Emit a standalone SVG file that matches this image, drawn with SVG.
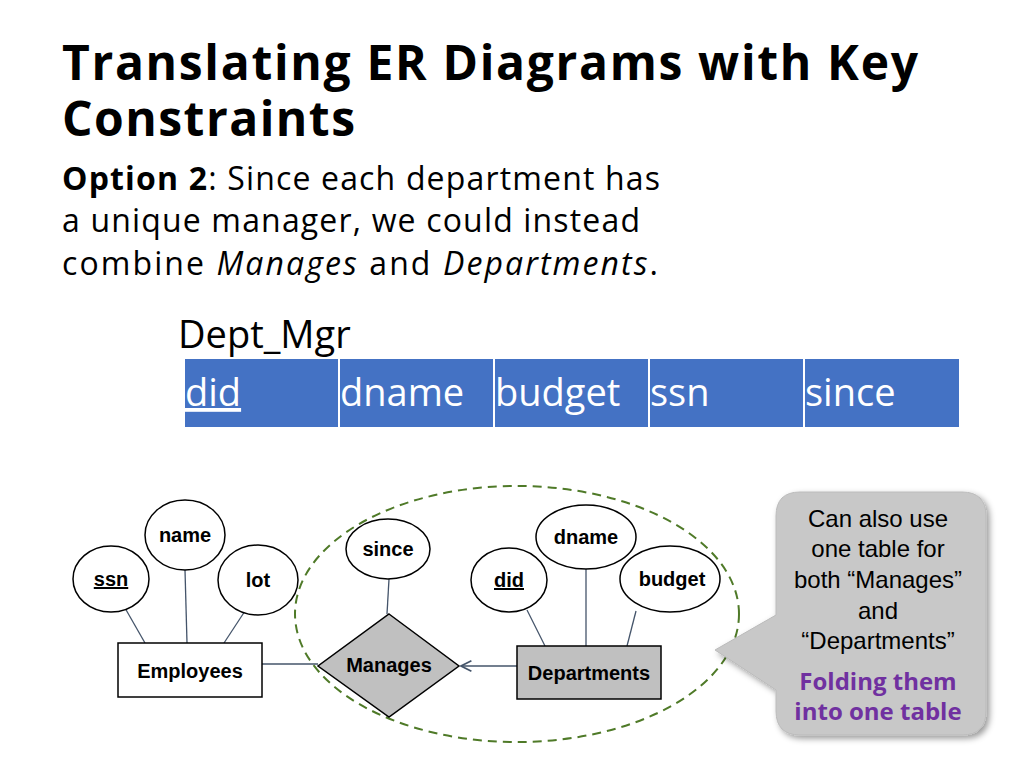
<svg xmlns="http://www.w3.org/2000/svg" width="1024" height="768" viewBox="0 0 1024 768">
<defs>
<style>
.t{font-family:"Open Sans","DejaVu Sans",sans-serif;fill:#000}
.a{font-family:"Liberation Sans",Arial,sans-serif;font-weight:bold;font-size:20px;text-anchor:middle}
.e{fill:#fff;stroke:#000;stroke-width:1.5}
.c{fill:#4472c4}
.ct{font-family:"Open Sans","DejaVu Sans",sans-serif;font-size:38px;fill:#fff}
.ln{stroke:#44546a;stroke-width:1.3;fill:none}
</style>
<marker id="ar" markerWidth="10" markerHeight="10" refX="9" refY="5" orient="auto"><path d="M1,1 L9,5 L1,9" fill="none" stroke="#44546a" stroke-width="1.3"/></marker>
<filter id="sh"><feDropShadow dx="3" dy="3" stdDeviation="3" flood-opacity="0.4"/></filter>
</defs>
<rect width="1024" height="768" fill="#fff"/>
<text class="t" x="62" y="80" font-size="48" font-weight="bold" textLength="856">Translating ER Diagrams with Key</text>
<text class="t" x="62" y="136" font-size="48" font-weight="bold" textLength="293">Constraints</text>
<text class="t" font-size="32" x="62" y="190" textLength="598"><tspan font-weight="bold">Option 2</tspan>: Since each department has</text>
<text class="t" font-size="32" x="62" y="232" textLength="578">a unique manager, we could instead</text>
<text class="t" font-size="32" x="62" y="275" textLength="596">combine <tspan font-style="italic">Manages</tspan> and <tspan font-style="italic">Departments</tspan>.</text>
<text class="t" font-size="38" x="178" y="348">Dept_Mgr</text>
<g id="table">
<rect class="c" x="185" y="359" width="153" height="68"/>
<rect class="c" x="340" y="359" width="153" height="68"/>
<rect class="c" x="495" y="359" width="153" height="68"/>
<rect class="c" x="650" y="359" width="153" height="68"/>
<rect class="c" x="805" y="359" width="154" height="68"/>
<text class="ct" x="185" y="406" text-decoration="underline">did</text>
<text class="ct" x="340" y="406">dname</text>
<text class="ct" x="495" y="406">budget</text>
<text class="ct" x="650" y="406">ssn</text>
<text class="ct" x="805" y="406">since</text>
</g>
<ellipse cx="517" cy="614" rx="222" ry="128" fill="none" stroke="#4f7a28" stroke-width="2" stroke-dasharray="9,6"/>
<g id="connectors">
<line class="ln" x1="125" y1="608" x2="145" y2="643"/>
<line class="ln" x1="185" y1="570" x2="187" y2="643"/>
<line class="ln" x1="245" y1="611" x2="224" y2="643"/>
<line class="ln" x1="389" y1="579" x2="387" y2="614"/>
<line class="ln" x1="527" y1="610" x2="545" y2="646"/>
<line class="ln" x1="586" y1="569" x2="586" y2="646"/>
<line class="ln" x1="636" y1="611" x2="627" y2="646"/>
<line class="ln" x1="262" y1="664" x2="318" y2="664" stroke-width="2"/>
<line class="ln" x1="517" y1="666" x2="461" y2="666" marker-end="url(#ar)"/>
</g>
<g id="ssn"><ellipse class="e" cx="111" cy="579" rx="38" ry="33"/><text class="a" x="111" y="586" text-decoration="underline">ssn</text></g>
<g id="name"><ellipse class="e" cx="185" cy="535" rx="40" ry="35"/><text class="a" x="185" y="542">name</text></g>
<g id="lot"><ellipse class="e" cx="258" cy="580" rx="40" ry="35"/><text class="a" x="258" y="587">lot</text></g>
<g id="since"><ellipse class="e" cx="388" cy="549" rx="42" ry="30"/><text class="a" x="388" y="556">since</text></g>
<g id="did"><ellipse class="e" cx="509" cy="580" rx="38" ry="32"/><text class="a" x="509" y="587" text-decoration="underline">did</text></g>
<g id="dname"><ellipse class="e" cx="586" cy="537" rx="50" ry="32"/><text class="a" x="586" y="544">dname</text></g>
<g id="budget"><ellipse class="e" cx="670" cy="579" rx="50" ry="33"/><text class="a" x="672" y="586">budget</text></g>
<g id="employees"><rect class="e" x="118" y="643" width="144" height="54"/><text class="a" x="190" y="678">Employees</text></g>
<g id="manages"><polygon points="389,614 459,666 389,717 318,666" fill="#c0c0c0" stroke="#000" stroke-width="1.5"/><text class="a" x="389" y="672">Manages</text></g>
<g id="departments"><rect x="517" y="646" width="144" height="53" fill="#c0c0c0" stroke="#000" stroke-width="1.5"/><text class="a" x="589" y="680">Departments</text></g>
<g id="callout">
<path d="M800,492 H962 Q986,492 986,516 V711 Q986,735 962,735 H800 Q776,735 776,711 V690 L715,650 L776,615 V516 Q776,492 800,492 Z" fill="#c8c8c8" stroke="#bbb" filter="url(#sh)"/>
<g font-family="Liberation Sans,Arial,sans-serif" font-size="24" text-anchor="middle" fill="#000">
<text x="878" y="527">Can also use</text>
<text x="878" y="557">one table for</text>
<text x="878" y="588">both “Manages”</text>
<text x="878" y="619">and</text>
<text x="878" y="649">“Departments”</text>
</g>
<g font-family="Open Sans,DejaVu Sans,sans-serif" font-size="24" font-weight="bold" text-anchor="middle" fill="#7030a0">
<text x="878" y="690">Folding them</text>
<text x="878" y="720">into one table</text>
</g>
</g>
</svg>
